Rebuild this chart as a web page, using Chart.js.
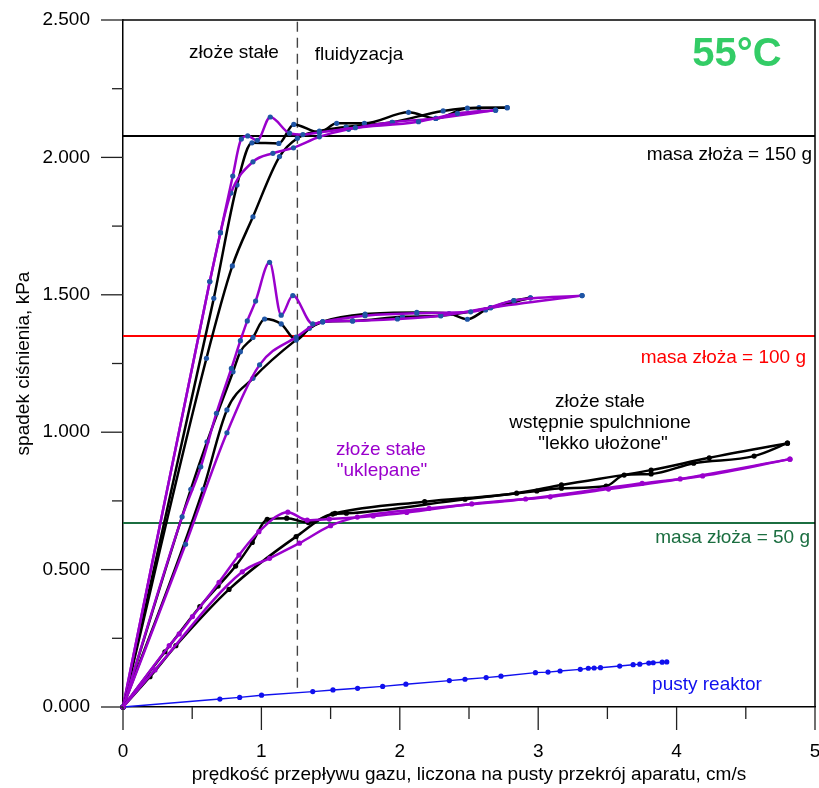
<!DOCTYPE html>
<html>
<head>
<meta charset="utf-8">
<script src="https://cdn.jsdelivr.net/npm/chart.js@4"></script>
<style>body{margin:0;background:#fff}</style>
</head>
<body>
<canvas id="myChart" width="819" height="788"></canvas>
<script>
// punkty pomiarowe [predkosc cm/s, spadek cisnienia kPa]
// k = zloze "lekko ulozone" (czarne), p = zloze "uklepane" (fioletowe), a = wzrost, b = spadek przeplywu
const k150a = [[0,0],[0.656,1.487],[0.824,1.900],[0.932,2.053],[1.126,2.051],[1.234,2.120],[1.419,2.091],[1.544,2.124],[1.744,2.124],[2.063,2.164],[2.260,2.142],[2.488,2.179],[2.776,2.181]];
const k150b = [[0,0],[0.603,1.269],[0.790,1.605],[0.939,1.784],[1.131,2.003],[1.260,2.070],[1.419,2.096],[1.612,2.111],[1.943,2.128],[2.313,2.169],[2.572,2.181],[2.776,2.181]];
const p150a = [[0,0],[0.627,1.548],[0.704,1.726],[0.793,1.932],[0.855,2.067],[0.901,2.078],[0.970,2.062],[1.064,2.147],[1.203,2.088],[1.300,2.083],[1.419,2.091],[1.679,2.108],[2.135,2.130],[2.416,2.160],[2.692,2.172]];
const p150b = [[0,0],[0.627,1.548],[0.704,1.726],[0.780,1.870],[0.939,1.984],[1.083,2.015],[1.232,2.035],[1.419,2.075],[1.630,2.102],[1.947,2.128],[2.260,2.142],[2.692,2.172]];

const k100a = [[0,0],[0.490,0.792],[0.607,0.965],[0.795,1.220],[0.848,1.293],[0.939,1.345],[1.023,1.412],[1.143,1.394],[1.251,1.336],[1.347,1.378],[1.443,1.402],[1.749,1.430],[2.123,1.436],[2.356,1.432],[2.488,1.411],[2.620,1.445],[2.824,1.479],[2.944,1.489]];
const k100b = [[0,0],[0.579,0.792],[0.751,1.081],[0.939,1.196],[1.251,1.336],[1.443,1.402],[1.659,1.405],[2.019,1.420],[2.296,1.424],[2.656,1.453],[2.944,1.489]];
const p100a = [[0,0],[0.427,0.692],[0.562,0.874],[0.675,1.069],[0.783,1.232],[0.848,1.333],[0.898,1.405],[0.958,1.477],[1.059,1.618],[1.143,1.426],[1.227,1.497],[1.371,1.394],[1.443,1.402],[1.749,1.424],[2.123,1.433],[2.512,1.438],[2.824,1.479],[3.317,1.497]];
const p100b = [[0,0],[0.452,0.592],[0.751,0.998],[0.987,1.245],[1.251,1.346],[1.443,1.402],[1.659,1.405],[1.983,1.412],[2.296,1.424],[2.656,1.453],[3.317,1.497]];

const k50a = [[0,0],[0.303,0.201],[0.555,0.365],[0.687,0.440],[0.814,0.513],[0.934,0.599],[1.042,0.683],[1.183,0.687],[1.339,0.671],[1.532,0.705],[2.180,0.747],[2.844,0.778],[3.168,0.808],[3.816,0.862],[4.236,0.907],[4.801,0.960]];
const k50b = [[0,0],[0.195,0.110],[0.382,0.223],[0.766,0.428],[1.251,0.620],[1.515,0.702],[1.614,0.705],[2.471,0.756],[2.990,0.786],[3.168,0.796],[3.491,0.804],[3.621,0.844],[3.816,0.848],[4.123,0.887],[4.560,0.913],[4.801,0.960]];
const p50a = [[0,0],[0.334,0.223],[0.406,0.266],[0.502,0.329],[0.694,0.454],[0.838,0.553],[0.982,0.638],[1.191,0.709],[1.331,0.680],[1.491,0.684],[1.808,0.695],[2.050,0.708],[2.520,0.739],[3.087,0.765],[3.508,0.793],[4.026,0.830],[4.819,0.902]];
const p50b = [[0,0],[0.231,0.135],[0.862,0.492],[1.059,0.541],[1.275,0.596],[1.500,0.660],[1.693,0.691],[2.212,0.723],[2.909,0.757],[3.751,0.814],[4.188,0.841],[4.819,0.902]];

const pustyReaktor = [[0,0],[0.700,0.029],[0.843,0.035],[1.001,0.043],[1.371,0.056],[1.517,0.062],[1.695,0.068],[1.876,0.075],[2.044,0.083],[2.358,0.096],[2.471,0.101],[2.624,0.107],[2.731,0.112],[2.980,0.125],[3.071,0.127],[3.158,0.131],[3.304,0.137],[3.362,0.141],[3.404,0.142],[3.450,0.143],[3.589,0.149],[3.686,0.154],[3.734,0.156],[3.799,0.160],[3.831,0.161],[3.896,0.163],[3.929,0.164]];

const masaLinie = [2.078, 1.350, 0.670];   // 150 g, 100 g, 50 g
const granicaFluid = 1.26;
const xTickLabels = ['0', '1', '2', '3', '4', '5'];
const yTickLabels = ['0.000', '0.500', '1.000', '1.500', '2.000', '2.500'];

const FONT = "'Liberation Sans', Arial, sans-serif";
const PURPLE = '#9a00cc';
const DOT = '#1f55a5';

function pts(a) { return a.map(p => ({x: p[0], y: p[1]})); }

function krzywa(data, color, dot) {
    return {
        data: pts(data), borderColor: color, borderWidth: 2.5,
        pointRadius: 2.6, pointBackgroundColor: dot, pointBorderColor: dot, pointBorderWidth: 0,
        tension: 0.4, cubicInterpolationMode: 'monotone', clip: false
    };
}
function pozioma(v, color) {
    return { data: [{x: 0, y: v}, {x: 5, y: v}], borderColor: color, borderWidth: 2, pointRadius: 0, clip: false };
}

// podzialki, ramka i napisy
const dodatki = {
    id: 'dodatki',
    afterDraw(chart) {
        const {ctx, chartArea: a, scales: {x, y}} = chart;
        ctx.save();
        ctx.strokeStyle = '#222';
        ctx.lineWidth = 1.3;
        for (let i = 0; i <= 10; i++) {
            const py = y.getPixelForValue(i * 0.25);
            const len = i % 2 === 0 ? 22 : 11;
            ctx.beginPath(); ctx.moveTo(a.left - len, py); ctx.lineTo(a.left, py); ctx.stroke();
        }
        for (let i = 0; i <= 10; i++) {
            const px = x.getPixelForValue(i * 0.5);
            const len = i % 2 === 0 ? 23 : 12;
            ctx.beginPath(); ctx.moveTo(px, a.bottom); ctx.lineTo(px, a.bottom + len); ctx.stroke();
        }
        ctx.strokeStyle = '#000';
        ctx.lineWidth = 1.5;
        ctx.beginPath();
        ctx.moveTo(a.left, a.top); ctx.lineTo(a.right, a.top); ctx.lineTo(a.right, a.bottom);
        ctx.stroke();

        ctx.textBaseline = 'middle';
        const txt = (s, px, py, color, align, font) => {
            ctx.fillStyle = color; ctx.textAlign = align; ctx.font = font || ('19px ' + FONT);
            ctx.fillText(s, px, py);
        };
        txt('złoże stałe', 234, 53, '#000', 'center');
        txt('fluidyzacja', 359, 55, '#000', 'center');
        txt('55°C', 737, 55, '#33cc66', 'center', 'bold 40px ' + FONT);
        txt('masa złoża = 150 g', 812, 155, '#000', 'right');
        txt('masa złoża = 100 g', 806, 358, '#ff0000', 'right');
        txt('masa złoża = 50 g', 810, 538, '#1b6e40', 'right');
        txt('złoże stałe', 600, 402, '#000', 'center');
        txt('wstępnie spulchnione', 600, 423, '#000', 'center');
        txt('"lekko ułożone"', 603, 444, '#000', 'center');
        txt('złoże stałe', 381, 450, PURPLE, 'center');
        txt('"uklepane"', 382, 471, PURPLE, 'center');
        txt('pusty reaktor', 707, 685, '#1010ee', 'center');
        ctx.restore();
    }
};

var ctx = document.getElementById('myChart').getContext('2d');
var myChart = new Chart(ctx, {
    type: 'line',
    data: {
        datasets: [
            krzywa(p50a, PURPLE, PURPLE),
            krzywa(p50b, PURPLE, PURPLE),
            krzywa(k50a, '#000', '#000'),
            krzywa(k50b, '#000', '#000'),
            krzywa(p100a, PURPLE, DOT),
            krzywa(p100b, PURPLE, DOT),
            krzywa(k100a, '#000', DOT),
            krzywa(k100b, '#000', DOT),
            krzywa(p150a, PURPLE, DOT),
            krzywa(p150b, PURPLE, DOT),
            krzywa(k150a, '#000', DOT),
            krzywa(k150b, '#000', DOT),
            {
                data: pts(pustyReaktor), borderColor: '#1010ee', borderWidth: 1.4, tension: 0,
                pointRadius: 2.6, pointBackgroundColor: '#1010ee', pointBorderWidth: 0, clip: false
            },
            {
                data: [{x: granicaFluid, y: 0.07}, {x: granicaFluid, y: 2.5}],
                borderColor: '#444', borderWidth: 1.4, borderDash: [10, 6], pointRadius: 0
            },
            pozioma(masaLinie[0], '#000'),
            pozioma(masaLinie[1], '#ff0000'),
            pozioma(masaLinie[2], '#1b6e40')
        ]
    },
    options: {
        responsive: false,
        animation: false,
        devicePixelRatio: 1,
        layout: { padding: { left: 0, top: 20, right: 2, bottom: 0 } },
        plugins: { legend: { display: false }, tooltip: { enabled: false } },
        scales: {
            x: {
                type: 'linear', min: 0, max: 5,
                grid: { display: false, drawTicks: false },
                border: { display: true, color: '#000', width: 1.5 },
                ticks: {
                    stepSize: 1, autoSkip: false, maxRotation: 0, padding: 33, color: '#000',
                    font: { family: FONT, size: 19 },
                    callback: (v, i) => xTickLabels[i]
                },
                title: {
                    display: true, text: 'prędkość przepływu gazu, liczona na pusty przekrój aparatu, cm/s',
                    color: '#000', font: { family: FONT, size: 19 }, padding: { top: 0, bottom: 2 }
                },
                afterFit(s) { s.height = 81; s.paddingLeft = 0; s.paddingRight = 0; }
            },
            y: {
                min: 0, max: 2.5,
                grid: { display: false, drawTicks: false },
                border: { display: true, color: '#000', width: 1.5 },
                ticks: {
                    stepSize: 0.5, autoSkip: false, padding: 33, color: '#000',
                    font: { family: FONT, size: 19 },
                    callback: (v, i) => yTickLabels[i]
                },
                title: {
                    display: true, text: 'spadek ciśnienia, kPa',
                    color: '#000', font: { family: FONT, size: 19 }, padding: { top: 12, bottom: 0 }
                },
                afterFit(s) { s.width = 123; s.paddingTop = 0; s.paddingBottom = 0; }
            }
        }
    },
    plugins: [dodatki]
});
</script>
</body>
</html>
